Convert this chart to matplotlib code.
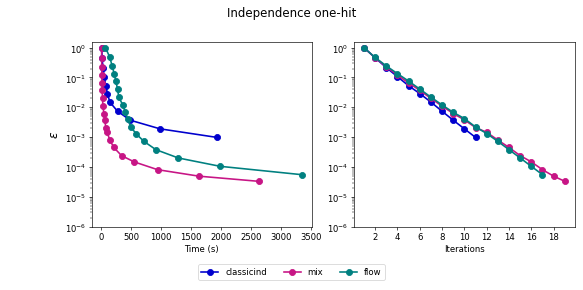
import numpy as np
import matplotlib.pyplot as plt

# epsilon reached after each iteration
eps_classicind = [1.0, 0.46, 0.215, 0.107, 0.053, 0.029, 0.015, 0.0074, 0.0037, 0.0019, 0.00098]
eps_mix = [1.0, 0.46, 0.23, 0.12, 0.066, 0.037, 0.020, 0.011, 0.0062, 0.0038, 0.0021,
           0.00145, 0.00080, 0.00045, 0.00024, 0.000148, 8.1e-5, 4.9e-5, 3.3e-5]
eps_flow = [1.0, 0.47, 0.245, 0.135, 0.076, 0.041, 0.022, 0.012, 0.0068, 0.0042, 0.0022,
            0.00132, 0.00072, 0.00038, 0.0002, 0.000105, 5.5e-5]

# cumulative wall time (s)
time_classicind = [3, 10, 25, 44, 72, 100, 139, 268, 480, 977, 1928]
time_mix = [1, 3, 5, 7, 10, 13, 17, 25, 40, 55, 72, 94, 139, 206, 335, 546, 938, 1631, 2625]
time_flow = [67, 140, 178, 212, 240, 268, 290, 355, 400, 435, 491, 575, 709, 910, 1284, 1983, 3350]

names = ["classicind", "mix", "flow"]
colors = ["mediumblue", "mediumvioletred", "teal"]
eps = [eps_classicind, eps_mix, eps_flow]
times = [time_classicind, time_mix, time_flow]

fig = plt.figure(figsize=(10, 4.99), dpi=58.3)
ax1 = fig.add_axes([0.157, 0.218, 0.378, 0.633])
ax2 = fig.add_axes([0.607, 0.218, 0.379, 0.633])

for name, c, e, t in zip(names, colors, eps, times):
    ax1.semilogy(t, e, 'o-', color=c, lw=2, ms=7.5, label=name)
    ax2.semilogy(np.arange(1, len(e) + 1), e, 'o-', color=c, lw=2, ms=7.5)

for ax in (ax1, ax2):
    ax.set_ylim(1e-6, 1.5)
    ax.set_yticks([1e-6, 1e-5, 1e-4, 1e-3, 1e-2, 1e-1, 1e0])
    ax.tick_params(labelsize=10.5)

ax1.set_xticks(np.arange(0, 3501, 500))
ax2.set_xticks(np.arange(2, 19, 2))
ax1.set_xlabel("Time (s)", fontsize=10.5)
ax2.set_xlabel("Iterations", fontsize=10.5)
ax1.set_ylabel(r"$\epsilon$", fontsize=15)

fig.suptitle("Independence one-hit", fontsize=14.5, y=0.975)
fig.legend(loc='lower center', ncol=3, bbox_to_anchor=(0.5, 0.02), fontsize=10.5)

plt.savefig("out.png", dpi=58.3)
